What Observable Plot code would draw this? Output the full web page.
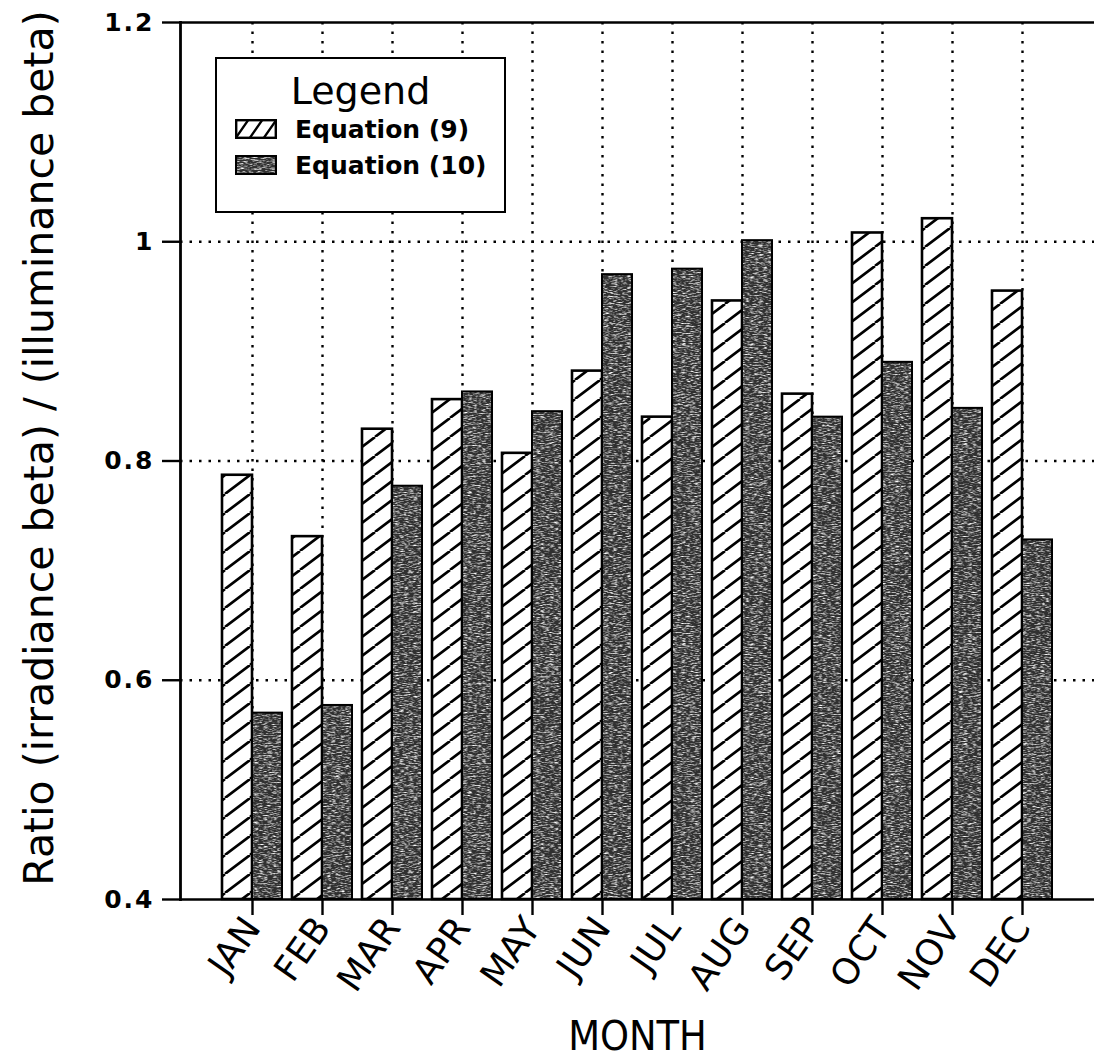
<!DOCTYPE html>
<html>
<head>
<meta charset="utf-8">
<script src="https://cdn.jsdelivr.net/npm/d3@7"></script>
<script src="https://cdn.jsdelivr.net/npm/@observablehq/plot@0.6"></script>
<style>
  html, body { margin: 0; padding: 0; background: white; }
  #wrap { position: relative; width: 1094px; height: 1061px; }
  #legend {
    position: absolute; left: 215px; top: 57px; width: 287px; height: 152px;
    border: 2.5px solid black; background: white; font-family: "DejaVu Sans", sans-serif;
  }
  #legend .title { text-align: center; font-size: 38px; margin-top: 12px; line-height: 40px; }
  #legend .row { display: flex; align-items: center; margin-left: 18px; height: 36px; font-size: 25px; font-weight: bold; }
  #legend .row svg { margin-right: 18px; }
  g[aria-label="y-axis tick label"] text { letter-spacing: 2px; }
</style>
</head>
<body>
<svg width="0" height="0" style="position:absolute">
  <defs>
    <pattern id="hatch" patternUnits="userSpaceOnUse" width="25" height="19">
      <rect width="25" height="19" fill="white"/>
      <path d="M0,19 L25,0 M-25,19 L0,0 M25,19 L50,0" stroke="black" stroke-width="2.6"/>
    </pattern>
    <pattern id="hatchLeg" patternUnits="userSpaceOnUse" width="14" height="20">
      <rect width="14" height="20" fill="white"/>
      <path d="M0,20 L14,0 M-14,20 L0,0 M14,20 L28,0" stroke="black" stroke-width="2.4"/>
    </pattern>
    <filter id="noise" x="0" y="0" width="100%" height="100%">
      <feTurbulence type="fractalNoise" baseFrequency="0.22 1.1" numOctaves="2" seed="4" result="t"/>
      <feColorMatrix in="t" type="matrix" values="0 0 0 0 1  0 0 0 0 1  0 0 0 0 1  2.4 0 0 0 -1.05"/>
    </filter>
    <pattern id="dark" patternUnits="userSpaceOnUse" width="300" height="300">
      <rect width="300" height="300" fill="#303030"/>
      <rect width="300" height="300" filter="url(#noise)"/>
    </pattern>
  </defs>
</svg>
<div id="wrap">
  <div id="chart"></div>
  <div id="legend">
    <div class="title">Legend</div>
    <div class="row"><svg width="42" height="20"><rect x="1.2" y="1.2" width="39.6" height="17.6" fill="url(#hatchLeg)" stroke="black" stroke-width="2.4"/></svg>Equation (9)</div>
    <div class="row"><svg width="42" height="20"><rect x="1" y="1" width="40" height="18" fill="url(#dark)" stroke="black" stroke-width="2"/></svg>Equation (10)</div>
  </div>
</div>
<script>
const months = ["JAN","FEB","MAR","APR","MAY","JUN","JUL","AUG","SEP","OCT","NOV","DEC"];
const eq9  = [0.787, 0.731, 0.829, 0.856, 0.807, 0.882, 0.840, 0.946, 0.861, 1.008, 1.021, 0.955];
const eq10 = [0.570, 0.577, 0.777, 0.863, 0.845, 0.970, 0.975, 1.001, 0.840, 0.890, 0.848, 0.728];
const yTicks = [0.4, 0.6, 0.8, 1.0, 1.2];
const yTickLabels = ["0.4", "0.6", "0.8", "1", "1.2"];
const yGrid = [0.6, 0.8, 1.0];
const yLabel = "Ratio (irradiance beta) / (illuminance beta)";
const xLabel = "MONTH";

const t9 = months.map((m, i) => ({month: m, value: eq9[i]}));
const t10 = months.map((m, i) => ({month: m, value: eq10[i]}));
const base = yTicks[0];
const dots = "2.5,7";
const condensed = "'DejaVu Sans Condensed', 'Liberation Sans Narrow', 'DejaVu Sans', sans-serif";

const chart = Plot.plot({
  width: 1094,
  height: 1061,
  marginLeft: 180,
  marginRight: 0,
  marginTop: 22,
  marginBottom: 162,
  style: {fontFamily: "DejaVu Sans, sans-serif", background: "white", color: "black"},
  x: {domain: months, paddingInner: 0.15, paddingOuter: 0.57},
  y: {domain: [base, yTicks[yTicks.length - 1]]},
  marks: [
    Plot.ruleY(yGrid, {stroke: "black", strokeWidth: 2.4, strokeDasharray: dots}),
    Plot.ruleX(months, {x: d => d, stroke: "black", strokeWidth: 2.4, strokeDasharray: dots}),
    Plot.barY(t9, {x: "month", y1: () => base, y2: "value", insetRight: 30, fill: "url(#hatch)", stroke: "black", strokeWidth: 2.6}),
    Plot.barY(t10, {x: "month", y1: () => base, y2: "value", insetLeft: 30, fill: "url(#dark)", stroke: "black", strokeWidth: 2}),
    Plot.ruleY([yTicks[yTicks.length - 1]], {stroke: "black", strokeWidth: 2.6}),
    Plot.ruleY([base], {stroke: "black", strokeWidth: 2.6}),
    Plot.axisY({ticks: yTicks, tickFormat: (d) => yTickLabels[yTicks.indexOf(d)], tickSize: 18, tickPadding: 8, strokeWidth: 2.4, fontSize: 25, fontWeight: "bold", label: null}),
    Plot.axisX({tickSize: 16, tickPadding: 6, tickRotate: -55, strokeWidth: 2.4, fontSize: 36, label: null}),
    Plot.frame({anchor: "left", stroke: "black", strokeWidth: 2.8}),
    Plot.text([yLabel], {frameAnchor: "left", textAnchor: "middle", dx: -141, dy: -13, rotate: -90, fontSize: 41}),
    Plot.text([xLabel], {frameAnchor: "bottom", dy: 150, fontSize: 41, fontFamily: condensed})
  ]
});
document.getElementById("chart").appendChild(chart);
</script>
</body>
</html>
